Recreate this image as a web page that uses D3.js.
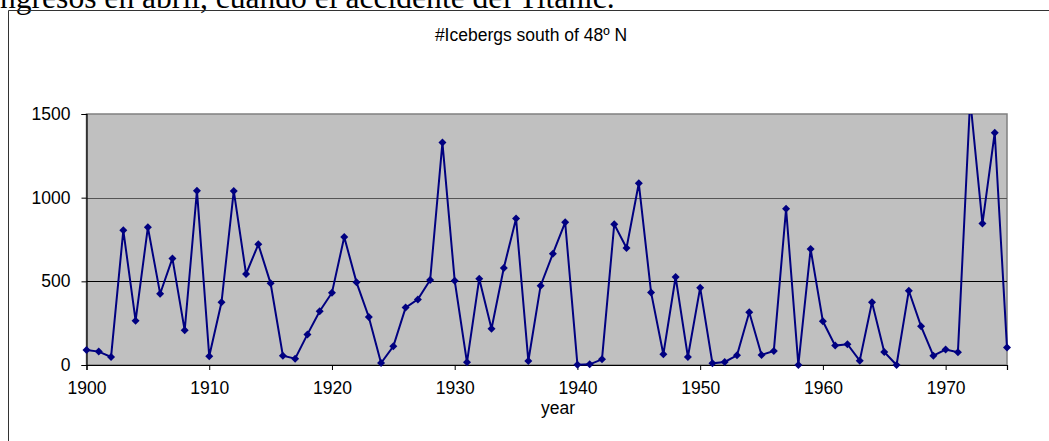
<!DOCTYPE html>
<html>
<head>
<meta charset="utf-8">
<script src="https://cdn.jsdelivr.net/npm/d3@7"></script>
<style>
  body { margin: 0; background: #fff; }
  svg { display: block; }
</style>
</head>
<body>
<script>
var width = 1049;
var height = 441;

// iceberg counts south of 48N, one value per year 1900..1975
var years = d3.range(1900, 1976);
var icebergs = [
  90, 80, 48, 805, 265, 823, 426, 637, 207, 1042,
  52, 375, 1040, 544, 721, 488, 56, 38, 183, 321,
  432, 765, 494, 287, 12, 112, 343, 392, 508, 1329,
  504, 16, 516, 217, 580, 875, 24, 474, 665, 853,
  2, 4, 34, 841, 699, 1086, 434, 64, 526, 48,
  462, 10, 18, 58, 315, 60, 84, 934, 0, 693,
  261, 116, 124, 26, 375, 78, 0, 444, 231, 56,
  92, 76, 1587, 845, 1388, 104
];
var yTicks = [0, 500, 1000, 1500];
var xTicks = [1900, 1910, 1920, 1930, 1940, 1950, 1960, 1970];

var labelFont = 'Liberation Sans, Arial, sans-serif';

var svg = d3.select('body')
  .append('svg')
  .attr('width', width)
  .attr('height', height);

// last line of the document text above the chart, mostly cut off at the top
var docText = svg.append('text')
  .attr('y', 8)
  .attr('font-family', 'Liberation Serif, Times New Roman, serif')
  .attr('font-size', 20)
  .attr('fill', '#000')
  .text('ingresos en abril, cuando el accidente del Titanic.');
// fit it so the visible part runs from the left edge to about x=615
var full = docText.node().getComputedTextLength();
var tmp = svg.append('text')
  .attr('font-family', 'Liberation Serif, Times New Roman, serif')
  .attr('font-size', 20)
  .text('i');
var iw = tmp.node().getComputedTextLength();
tmp.remove();
var fs = 20 * 615 / (full - iw);
docText.attr('font-size', fs).attr('x', -iw * fs / 20);

// chart frame (runs off the right and bottom of the window)
svg.append('path')
  .attr('d', 'M8.5,' + (height + 5) + 'V10.5H' + (width + 5))
  .attr('fill', 'none')
  .attr('stroke', '#333')
  .attr('stroke-width', 1);

var x = d3.scaleLinear().domain([1900, 1975]).range([86.5, 1007]);
var y = d3.scaleLinear().domain([0, 1500]).range([365, 114]);

var plot = svg.append('g');

plot.append('rect')
  .attr('x', x(1900))
  .attr('y', y(1500))
  .attr('width', x(1975) - x(1900))
  .attr('height', y(0) - y(1500))
  .attr('fill', '#c0c0c0')
  .attr('stroke', '#808080')
  .attr('stroke-width', 1.5);

// gridlines
plot.selectAll('line.grid')
  .data([500, 1000])
  .enter()
  .append('line')
  .attr('class', 'grid')
  .attr('x1', x(1900))
  .attr('x2', x(1975))
  .attr('y1', d => Math.round(y(d)) + 0.5)
  .attr('y2', d => Math.round(y(d)) + 0.5)
  .attr('stroke', d => d === 500 ? '#000' : '#555')
  .attr('stroke-width', 1);

// axes
var yAxis = d3.axisLeft(y)
  .tickValues(yTicks)
  .tickFormat(d3.format('d'))
  .tickSize(5)
  .tickPadding(11);
var xAxis = d3.axisBottom(x)
  .tickValues(xTicks)
  .tickFormat(d3.format('d'))
  .tickSize(5)
  .tickPadding(12);

var gy = svg.append('g')
  .attr('transform', 'translate(' + x(1900) + ',0)')
  .call(yAxis);
var gx = svg.append('g')
  .attr('transform', 'translate(0,' + y(0) + ')')
  .call(xAxis);

[gx, gy].forEach(function (g) {
  g.selectAll('path.domain').attr('stroke', '#000').attr('stroke-width', 1.2);
  g.selectAll('.tick line').attr('stroke', '#000');
  g.selectAll('text')
    .attr('font-family', labelFont)
    .attr('font-size', 17.5)
    .attr('fill', '#000');
});

// series, clipped to the plot area
svg.append('clipPath')
  .attr('id', 'clip')
  .append('rect')
  .attr('x', x(1900) - 6)
  .attr('y', y(1500))
  .attr('width', x(1975) - x(1900) + 12)
  .attr('height', y(0) - y(1500) + 6);

var series = svg.append('g').attr('clip-path', 'url(#clip)');

var line = d3.line()
  .x((d, i) => x(years[i]))
  .y(d => y(d));

series.append('path')
  .datum(icebergs)
  .attr('d', line)
  .attr('fill', 'none')
  .attr('stroke', '#000080')
  .attr('stroke-width', 2);

// excel-style diamond marker: a square turned 45 degrees
var marker = d3.symbol().type(d3.symbolSquare).size(32);
series.selectAll('path.pt')
  .data(icebergs)
  .enter()
  .append('path')
  .attr('class', 'pt')
  .attr('transform', (d, i) => 'translate(' + x(years[i]) + ',' + y(d) + ') rotate(45)')
  .attr('d', marker)
  .attr('fill', '#000080');

// titles
svg.append('text')
  .attr('x', 531)
  .attr('y', 41)
  .attr('text-anchor', 'middle')
  .attr('font-family', labelFont)
  .attr('font-size', 17.5)
  .text('#Icebergs south of 48º N');

svg.append('text')
  .attr('x', 558)
  .attr('y', 414)
  .attr('text-anchor', 'middle')
  .attr('font-family', labelFont)
  .attr('font-size', 17.5)
  .text('year');
</script>
</body>
</html>
